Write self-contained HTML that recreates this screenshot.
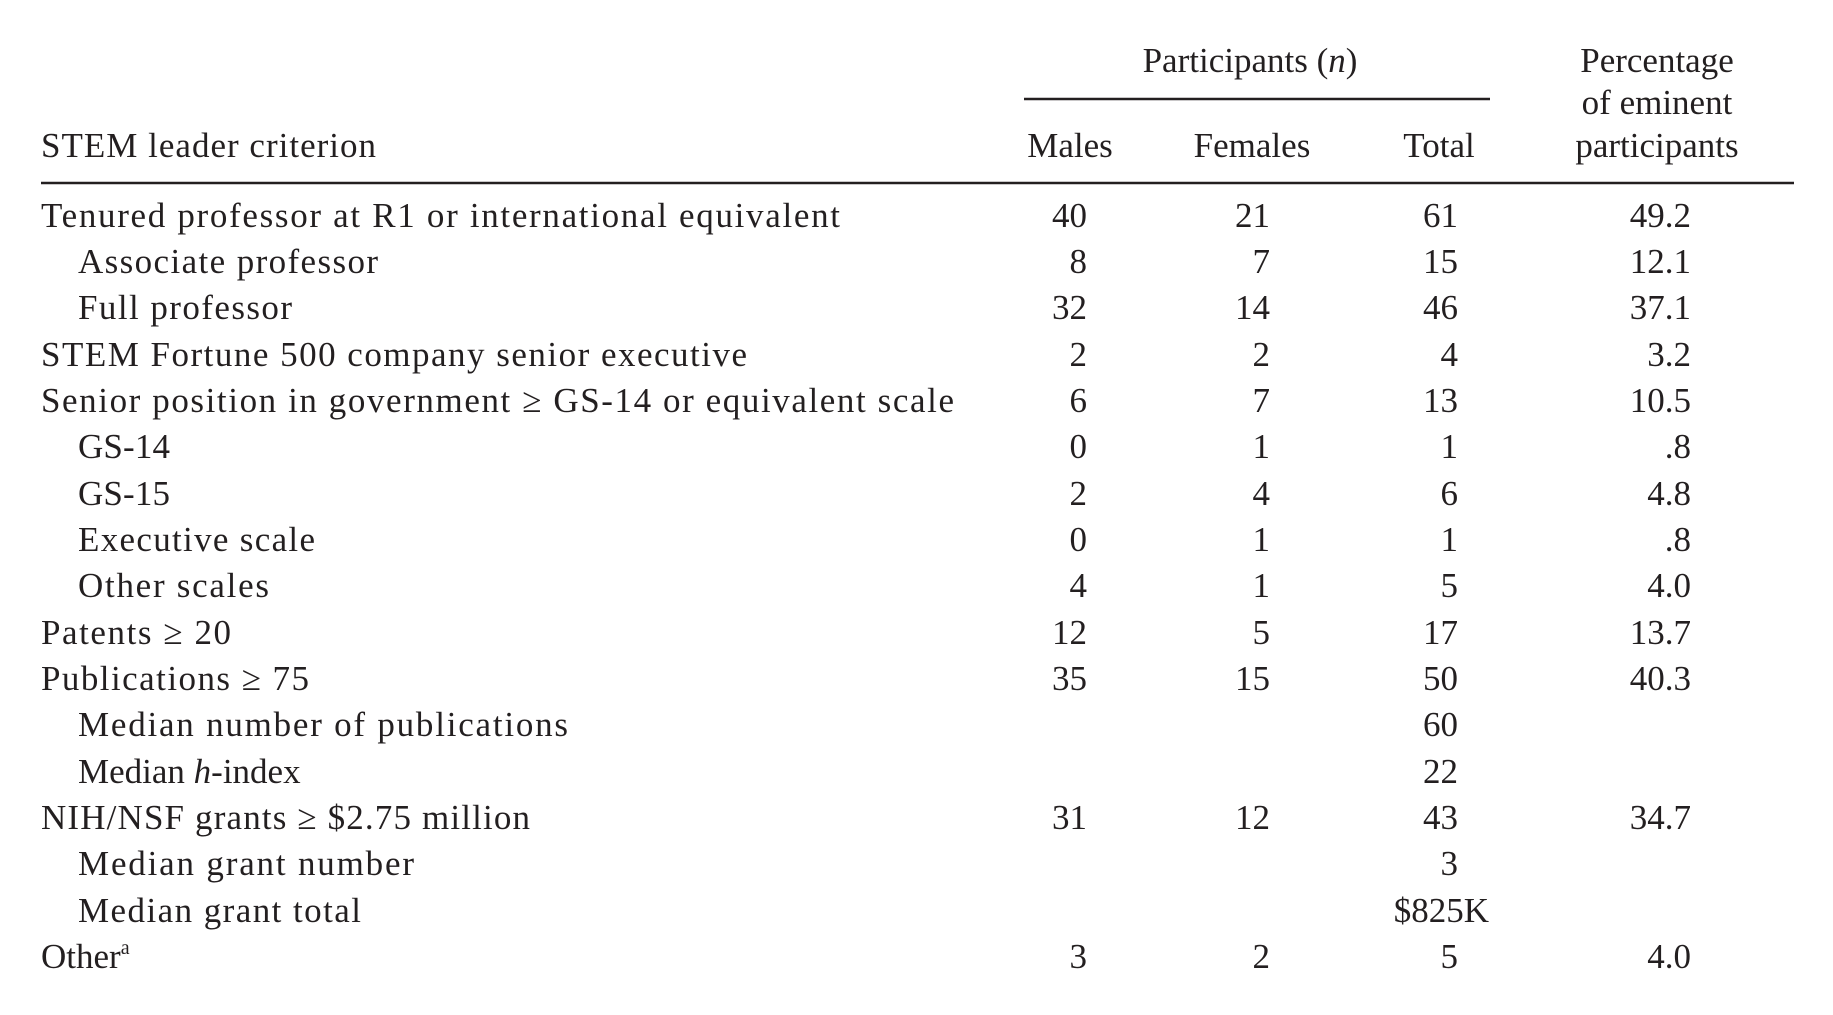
<!DOCTYPE html>
<html><head><meta charset="utf-8"><style>
html,body{margin:0;padding:0;background:#fff;}
svg{display:block;}
text{font-family:"Liberation Serif",serif;font-size:35px;fill:#231f20;}
</style></head><body>
<svg width="1833" height="1015" viewBox="0 0 1833 1015">
<text x="1250" y="72" text-anchor="middle">Participants (<tspan font-style="italic">n</tspan>)</text>
<line x1="1024" y1="99" x2="1490" y2="99" stroke="#231f20" stroke-width="2.5"/>
<text x="1657" y="72" text-anchor="middle">Percentage</text>
<text x="1657" y="114" text-anchor="middle">of eminent</text>
<text x="1657" y="157" text-anchor="middle">participants</text>
<text x="41" y="157" textLength="335">STEM leader criterion</text>
<text x="1070" y="157" text-anchor="middle">Males</text>
<text x="1252" y="157" text-anchor="middle">Females</text>
<text x="1439" y="157" text-anchor="middle">Total</text>
<line x1="41" y1="183" x2="1794" y2="183" stroke="#231f20" stroke-width="2.5"/>
<g id="rows">
<text x="41" y="227" textLength="799">Tenured professor at R1 or international equivalent</text>
<text x="78" y="273" textLength="300">Associate professor</text>
<text x="78" y="319" textLength="214">Full professor</text>
<text x="41" y="366" textLength="706">STEM Fortune 500 company senior executive</text>
<text x="41" y="412" textLength="913">Senior position in government ≥ GS-14 or equivalent scale</text>
<text x="78" y="458" textLength="92">GS-14</text>
<text x="78" y="505" textLength="92">GS-15</text>
<text x="78" y="551" textLength="237">Executive scale</text>
<text x="78" y="597" textLength="191">Other scales</text>
<text x="41" y="644" textLength="190">Patents ≥ 20</text>
<text x="41" y="690" textLength="268">Publications ≥ 75</text>
<text x="78" y="736" textLength="490">Median number of publications</text>
<text x="78" y="783"><tspan>Median </tspan><tspan font-style="italic">h</tspan><tspan>-index</tspan></text>
<text x="41" y="829" textLength="489">NIH/NSF grants ≥ $2.75 million</text>
<text x="78" y="875" textLength="336">Median grant number</text>
<text x="78" y="922" textLength="283">Median grant total</text>
<text x="41" y="968">Other<tspan font-size="20" dy="-14">a</tspan></text>
</g>
<g text-anchor="end">
<text x="1087" y="227">40</text><text x="1270" y="227">21</text><text x="1458" y="227">61</text><text x="1691" y="227">49.2</text>
<text x="1087" y="273">8</text><text x="1270" y="273">7</text><text x="1458" y="273">15</text><text x="1691" y="273">12.1</text>
<text x="1087" y="319">32</text><text x="1270" y="319">14</text><text x="1458" y="319">46</text><text x="1691" y="319">37.1</text>
<text x="1087" y="366">2</text><text x="1270" y="366">2</text><text x="1458" y="366">4</text><text x="1691" y="366">3.2</text>
<text x="1087" y="412">6</text><text x="1270" y="412">7</text><text x="1458" y="412">13</text><text x="1691" y="412">10.5</text>
<text x="1087" y="458">0</text><text x="1270" y="458">1</text><text x="1458" y="458">1</text><text x="1691" y="458">.8</text>
<text x="1087" y="505">2</text><text x="1270" y="505">4</text><text x="1458" y="505">6</text><text x="1691" y="505">4.8</text>
<text x="1087" y="551">0</text><text x="1270" y="551">1</text><text x="1458" y="551">1</text><text x="1691" y="551">.8</text>
<text x="1087" y="597">4</text><text x="1270" y="597">1</text><text x="1458" y="597">5</text><text x="1691" y="597">4.0</text>
<text x="1087" y="644">12</text><text x="1270" y="644">5</text><text x="1458" y="644">17</text><text x="1691" y="644">13.7</text>
<text x="1087" y="690">35</text><text x="1270" y="690">15</text><text x="1458" y="690">50</text><text x="1691" y="690">40.3</text>
<text x="1458" y="736">60</text>
<text x="1458" y="783">22</text>
<text x="1087" y="829">31</text><text x="1270" y="829">12</text><text x="1458" y="829">43</text><text x="1691" y="829">34.7</text>
<text x="1458" y="875">3</text>
<text x="1489" y="922">$825K</text>
<text x="1087" y="968">3</text><text x="1270" y="968">2</text><text x="1458" y="968">5</text><text x="1691" y="968">4.0</text>
</g>
</svg>
</body></html>
